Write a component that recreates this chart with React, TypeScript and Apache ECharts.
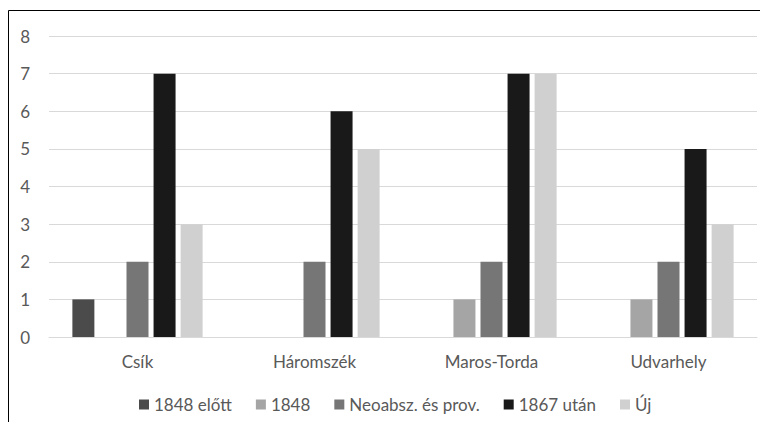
import React, { useEffect, useRef } from "react";
import * as echarts from "echarts";

const categories = ["Csík", "Háromszék", "Maros-Torda", "Udvarhely"];
const seriesNames = ["1848 előtt", "1848", "Neoabsz. és prov.", "1867 után", "Új"];
const before1848 = [1, 0, 0, 0];
const y1848 = [0, 0, 1, 1];
const neoabsz = [2, 2, 2, 2];
const after1867 = [7, 6, 7, 5];
const uj = [3, 5, 7, 3];
const yTicks = [0, 1, 2, 3, 4, 5, 6, 7, 8];
const colors = ["#4b4b4b", "#a5a5a5", "#767676", "#191919", "#d0d0d0"];

export default function App() {
  const ref = useRef<HTMLDivElement>(null);
  useEffect(() => {
    if (!ref.current) return;
    const chart = echarts.init(ref.current, null, { renderer: "svg" });
    const values = [before1848, y1848, neoabsz, after1867, uj];
    const font = "Lato, 'Open Sans', sans-serif";
    chart.setOption({
      animation: false,
      backgroundColor: "#ffffff",
      color: colors,
      textStyle: { fontFamily: font },
      graphic: [
        {
          type: "rect",
          shape: { x: 0.5, y: 2.5, width: 900, height: 600 },
          style: { fill: "none", stroke: "#000000", lineWidth: 1 },
          silent: true,
        },
      ],
      grid: { left: 41, right: 11, top: 28, bottom: 85, containLabel: false },
      legend: {
        bottom: 4,
        left: 126,
        icon: "rect",
        itemWidth: 10,
        itemHeight: 10,
        itemGap: 24,
        textStyle: { color: "#595959", fontSize: 17, fontFamily: font },
        data: seriesNames,
      },
      xAxis: {
        type: "category",
        data: categories,
        axisTick: { show: false },
        axisLine: { lineStyle: { color: "#d9d9d9", width: 1 } },
        axisLabel: { color: "#595959", fontSize: 17, margin: 16, fontFamily: font },
      },
      yAxis: {
        type: "value",
        min: yTicks[0],
        max: yTicks[yTicks.length - 1],
        interval: 1,
        axisLine: { show: false },
        axisTick: { show: false },
        splitLine: { lineStyle: { color: "#d9d9d9", width: 1 } },
        axisLabel: { color: "#595959", fontSize: 17, margin: 19, fontFamily: font },
      },
      series: seriesNames.map((name, i) => ({
        name,
        type: "bar",
        data: values[i],
        barWidth: 22,
        barGap: "23%",
        itemStyle: { color: colors[i] },
      })),
    });
    return () => chart.dispose();
  }, []);
  return <div ref={ref} style={{ width: 760, height: 414 }} />;
}
